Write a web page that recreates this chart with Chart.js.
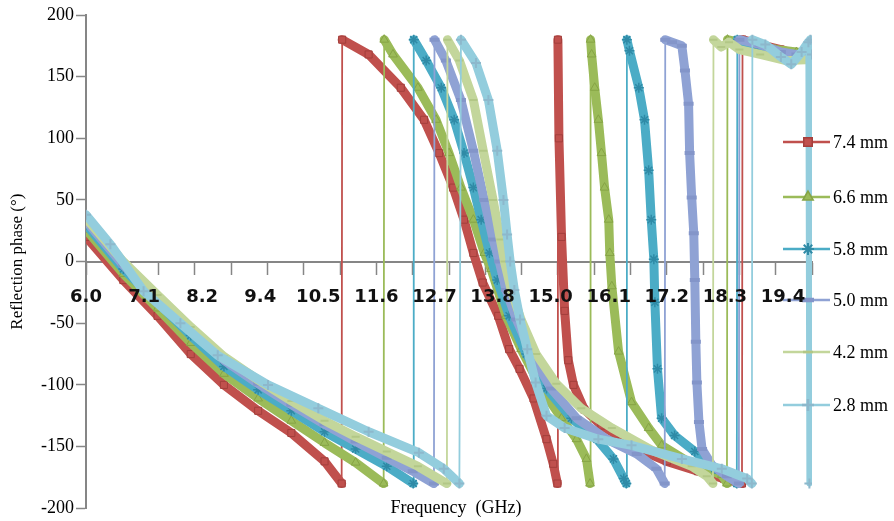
<!DOCTYPE html>
<html>
<head>
<meta charset="utf-8">
<title>Reflection phase vs frequency</title>
<script src="https://cdn.jsdelivr.net/npm/chart.js@4.4.0/dist/chart.umd.min.js"></script>
<style>
  html, body { margin: 0; padding: 0; background: #ffffff; }
  #wrap { position: relative; width: 894px; height: 521px; }
</style>
</head>
<body>
<div id="wrap"><canvas id="phaseChart"></canvas></div>
<script>
// ---- data (frequency in GHz, phase in degrees) ----
const seriesNames = ['7.4 mm', '6.6 mm', '5.8 mm', '5.0 mm', '4.2 mm', '2.8 mm'];

const freq74 = [6.0, 6.72, 7.38, 8.02, 8.66, 9.32, 9.96, 10.6, 10.93,
  10.94, 11.45, 12.07, 12.52, 12.81, 13.08, 13.29, 13.47, 13.65, 13.95, 14.16, 14.36, 14.63, 14.88, 15.01, 15.09,
  15.10, 15.12, 15.17, 15.23, 15.30, 15.40, 15.61, 15.94, 16.33, 16.7, 17.2, 17.8, 18.3, 18.65,
  18.66, 19.0, 19.4, 19.7, 20.0];
const phase74 = [20, -15, -44, -75, -100, -121, -139, -162, -180,
  180, 168, 141, 115, 88, 60, 34, 7, -17, -44, -71, -87, -111, -144, -164, -180,
  180, 100, 20, -40, -80, -100, -120, -133, -143, -153, -162, -170, -176, -180,
  180, 176, 172, 168, 166];

const freq66 = [6.0, 6.72, 7.38, 8.02, 8.66, 9.32, 9.96, 10.6, 11.2, 11.74,
  11.75, 11.92, 12.40, 12.75, 13.00, 13.23, 13.47, 13.68, 13.81, 14.10, 14.39, 14.78, 15.17, 15.46, 15.65, 15.72,
  15.73, 15.75, 15.81, 15.88, 15.94, 16.00, 16.08, 16.10, 16.14, 16.27, 16.52, 16.85, 17.10, 17.68, 18.26, 18.36,
  18.37, 18.8, 19.3, 19.7, 20.0];
const phase66 = [26, -10, -38, -66, -91, -111, -129, -147, -163, -180,
  180, 168, 141, 115, 88, 60, 34, 7, -6, -44, -71, -103, -127, -144, -160, -180,
  180, 168, 141, 115, 88, 60, 34, 7, -20, -73, -114, -135, -149, -164, -173, -180,
  180, 176, 172, 170, 168];

const freq58 = [6.0, 6.72, 7.38, 8.02, 8.66, 9.32, 9.96, 10.6, 11.2, 11.8, 12.31,
  12.32, 12.56, 12.85, 13.10, 13.29, 13.47, 13.62, 13.78, 13.93, 14.16, 14.49, 14.88, 15.36, 15.85, 16.17, 16.37, 16.42,
  16.43, 16.48, 16.66, 16.77, 16.85, 16.90, 16.95, 16.97, 17.02, 17.10, 17.35, 17.74, 18.13, 18.46, 18.55,
  18.56, 18.9, 19.3, 19.7, 20.0];
const phase58 = [30, -6, -33, -60, -85, -104, -121, -138, -152, -166, -180,
  180, 163, 141, 115, 88, 60, 34, 7, -15, -44, -75, -103, -127, -144, -160, -176, -180,
  180, 171, 141, 115, 74, 34, 2, -33, -87, -127, -141, -154, -168, -174, -180,
  180, 175, 170, 167, 165];

const freq50 = [6.0, 6.72, 7.38, 8.02, 8.66, 9.32, 9.96, 10.6, 11.2, 11.8, 12.3, 12.71,
  12.72, 12.94, 13.23, 13.47, 13.68, 13.85, 13.97, 14.10, 14.30, 14.59, 14.97, 15.46, 16.04, 16.62, 17.00, 17.16,
  17.17, 17.30, 17.49, 17.55, 17.62, 17.64, 17.68, 17.72, 17.74, 17.76, 17.78, 17.82, 17.88, 18.07, 18.36, 18.59,
  18.60, 19.0, 19.4, 19.7, 20.0];
const phase50 = [33, -3, -30, -56, -80, -99, -116, -132, -146, -159, -170, -180,
  180, 163, 131, 90, 50, 18, 0, -23, -47, -75, -103, -127, -144, -156, -168, -180,
  180, 178, 175, 155, 128, 88, 52, 23, -15, -65, -98, -130, -152, -165, -174, -180,
  180, 176, 170, 168, 166];

const freq42 = [6.0, 6.72, 7.38, 8.02, 8.66, 9.32, 9.96, 10.6, 11.2, 11.8, 12.4, 12.96,
  12.97, 13.20, 13.47, 13.66, 13.85, 13.99, 14.07, 14.20, 14.39, 14.68, 15.07, 15.55, 16.14, 16.91, 17.68, 17.97, 18.09,
  18.10, 18.25, 18.40, 18.60, 19.0, 19.5, 20.0];
const phase42 = [35, 0, -27, -53, -77, -96, -113, -129, -142, -154, -166, -180,
  180, 163, 131, 90, 50, 18, 0, -23, -47, -75, -99, -119, -135, -153, -166, -174, -180,
  180, 174, 178, 172, 168, 163, 164];

const freq28 = [6.0, 6.47, 7.11, 7.82, 8.54, 9.51, 10.48, 11.45, 12.42, 12.9, 13.2,
  13.23, 13.52, 13.76, 13.93, 14.05, 14.12, 14.18, 14.26, 14.37, 14.51, 14.67, 14.88, 15.23, 15.88, 16.52, 17.49, 18.26, 18.75, 18.84,
  18.85, 19.1, 19.4, 19.6, 19.8, 19.93, 19.95, 19.97, 20.0];
const phase28 = [38, 14, -24, -50, -76, -100, -119, -138, -155, -168, -180,
  180, 161, 131, 90, 50, 22, 0, -23, -47, -71, -98, -125, -135, -144, -149, -160, -168, -176, -180,
  180, 176, 166, 160, 170, 178, -180, 180, 168];

const yTickValues = [-200, -150, -100, -50, 0, 50, 100, 150, 200];
const xLabelValues = [6.0, 7.12, 8.24, 9.36, 10.48, 11.6, 12.72, 13.84, 14.96, 16.08, 17.2, 18.32, 19.44];
const xLabelText = ['6.0', '7.1', '8.2', '9.4', '10.5', '11.6', '12.7', '13.8', '15.0', '16.1', '17.2', '18.3', '19.4'];
const xMarkValues = [6.0, 6.7, 7.4, 8.1, 8.8, 9.5, 10.2, 10.9, 11.6, 12.3, 13.0, 13.7, 14.4, 15.1, 15.8, 16.5, 17.2, 17.9, 18.6, 19.3, 20.0];

// ---- styling ----
const seriesStyle = [
  { color: '#C0504D', edge: '#A33F3C', point: 'rect', radius: 5, width: 1 },
  { color: '#9BBB59', edge: '#86A445', point: 'triangle', radius: 5, width: 1 },
  { color: '#4BACC6', edge: '#2F8AA6', point: 'star', radius: 5, width: 1.5 },
  { color: '#8FA2D4', edge: '#8395C9', point: 'line', radius: 5, width: 4 },
  { color: '#C3D69B', edge: '#B2C786', point: 'line', radius: 4, width: 2 },
  { color: '#93CDDD', edge: '#8DB8CC', point: 'cross', radius: 5, width: 2 }
];
const serif = "'Liberation Serif', 'Times New Roman', serif";

const freqs = [freq74, freq66, freq58, freq50, freq42, freq28];
const phases = [phase74, phase66, phase58, phase50, phase42, phase28];

// jumps from -180 to +180 are thin lines; the flicker of the 2.8 mm curve near 20 GHz is a broad bar
function segWidth(ctx) {
  if (Math.abs(ctx.p1.parsed.y - ctx.p0.parsed.y) <= 250) return 9;
  return (ctx.datasetIndex === 5 && ctx.p0.parsed.x > 19.9) ? 6 : 1.8;
}

const datasets = seriesNames.map((name, i) => {
  const s = seriesStyle[i];
  return {
    label: name,
    data: freqs[i].map((f, k) => ({ x: f, y: phases[i][k] })),
    borderColor: s.color,
    backgroundColor: s.color,
    pointStyle: s.point,
    pointRadius: s.radius,
    pointHoverRadius: s.radius,
    pointBackgroundColor: s.color,
    pointBorderColor: s.edge,
    pointBorderWidth: s.width,
    borderCapStyle: 'round',
    borderJoinStyle: 'round',
    tension: 0,
    order: seriesNames.length - 1 - i,
    segment: { borderWidth: segWidth }
  };
});

const near = (a, b) => Math.abs(a - b) < 1e-6;

// legend at the right, overlapping the plot like the original
const sideLegend = {
  id: 'sideLegend',
  afterDatasetsDraw(chart) {
    const ctx = chart.ctx;
    const rows = [142, 197, 249, 300, 352, 405];
    ctx.save();
    seriesNames.forEach((name, i) => {
      const s = seriesStyle[i];
      const y = rows[i];
      ctx.strokeStyle = s.color;
      ctx.lineWidth = 2.5;
      ctx.beginPath();
      ctx.moveTo(783, y);
      ctx.lineTo(830, y);
      ctx.stroke();
      ctx.fillStyle = s.color;
      ctx.strokeStyle = s.edge;
      ctx.lineWidth = s.width + 0.5;
      Chart.helpers.drawPoint(ctx, { pointStyle: s.point, radius: s.radius + 1, borderWidth: s.width + 0.5, rotation: 0 }, 808, y);
      ctx.fillStyle = '#000';
      ctx.font = '18px ' + serif;
      ctx.textAlign = 'left';
      ctx.textBaseline = 'middle';
      ctx.fillText(name, 833, y + 1);
    });
    ctx.restore();
  }
};

// x axis title sits at the bottom of the chart, not next to the axis at 0
const bottomTitle = {
  id: 'bottomTitle',
  afterDraw(chart) {
    const ctx = chart.ctx;
    ctx.save();
    ctx.fillStyle = '#000';
    ctx.font = '18px ' + serif;
    ctx.textAlign = 'center';
    ctx.textBaseline = 'middle';
    ctx.fillText('Frequency  (GHz)', 456, 508);
    ctx.restore();
  }
};

new Chart(document.getElementById('phaseChart'), {
  type: 'line',
  data: { datasets },
  options: {
    responsive: true,
    maintainAspectRatio: false,
    animation: false,
    layout: { padding: { top: 15, bottom: 10, right: 82, left: 0 } },
    plugins: {
      legend: { display: false },
      tooltip: { enabled: false }
    },
    scales: {
      x: {
        type: 'linear',
        min: 6,
        max: 20,
        position: { y: 0 },
        afterBuildTicks: axis => {
          const vals = xMarkValues.concat(xLabelValues.filter(v => !xMarkValues.some(m => near(m, v))));
          axis.ticks = vals.sort((a, b) => a - b).map(v => ({ value: v }));
        },
        ticks: {
          z: 1,
          autoSkip: false,
          maxRotation: 0,
          padding: 13,
          color: '#111',
          font: { family: "'DejaVu Sans', sans-serif", size: 18, weight: 'bold' },
          callback: value => {
            const k = xLabelValues.findIndex(v => near(v, value));
            return k >= 0 ? xLabelText[k] : '';
          }
        },
        grid: {
          drawOnChartArea: false,
          drawTicks: true,
          tickLength: 12,
          tickWidth: 1.5,
          tickColor: ctx => (ctx.tick && xMarkValues.some(m => near(m, ctx.tick.value))) ? '#868686' : 'rgba(0,0,0,0)'
        },
        border: { display: true, color: '#868686', width: 2 }
      },
      y: {
        type: 'linear',
        min: -200,
        max: 200,
        position: 'left',
        afterBuildTicks: axis => { axis.ticks = yTickValues.map(v => ({ value: v })); },
        afterFit: axis => { axis.width = 86; },
        ticks: {
          padding: 2,
          color: '#000',
          font: { family: serif, size: 18 }
        },
        grid: {
          drawOnChartArea: false,
          drawTicks: true,
          tickLength: 10,
          tickWidth: 1.5,
          tickColor: '#868686'
        },
        border: { display: true, color: '#868686', width: 2 },
        title: {
          display: true,
          text: 'Reflection phase (°)',
          color: '#000',
          font: { family: serif, size: 17 },
          padding: { top: 7, bottom: 0 }
        }
      }
    }
  },
  plugins: [sideLegend, bottomTitle]
});
</script>
</body>
</html>
